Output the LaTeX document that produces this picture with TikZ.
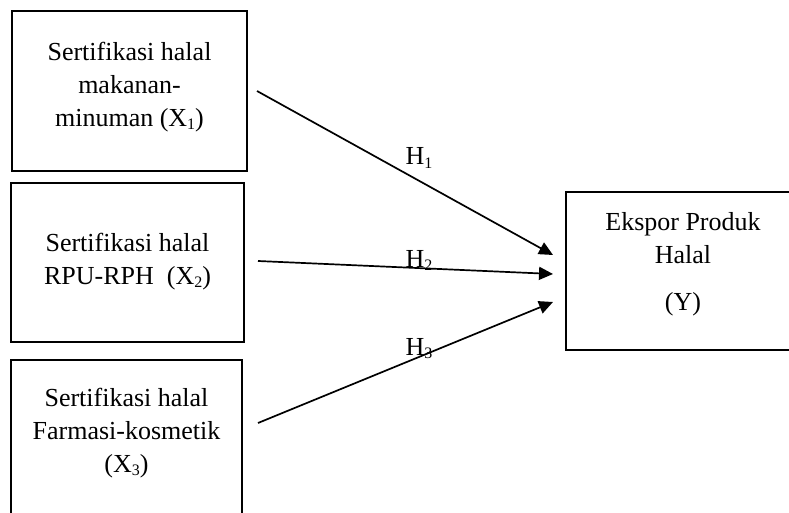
\documentclass[tikz,border=0pt]{standalone}
\usepackage{fontspec}
\setmainfont{Liberation Serif}
\usetikzlibrary{arrows.meta}
\newcommand{\sbs}[1]{\raisebox{-3pt}{\fontsize{16}{16}\selectfont #1}}
\tikzset{
  boxline/.style={line width=1.8pt},
  lbl/.style={font=\fontsize{26}{33}\selectfont, align=center, inner sep=0pt},
  hyp/.style={font=\fontsize{26}{33}\selectfont, inner sep=0pt, anchor=base},
  link/.style={line width=1.7pt, -{Triangle[length=14pt,width=13pt]}}
}
\begin{document}
\begin{tikzpicture}[x=1pt,y=-1pt]
\useasboundingbox (0,0) rectangle (789,513);
% boxes
\node[boxline, draw, minimum width=235pt, minimum height=160pt, inner sep=0pt] (b1) at (129.5,91) {};
\node[boxline, draw, minimum width=233pt, minimum height=159pt, inner sep=0pt] (b2) at (127.5,262.5) {};
\draw[boxline] (11,530) -- (11,360) -- (242,360) -- (242,530);
\draw[boxline] (820,192) -- (566,192) -- (566,350) -- (820,350);
% texts
\node[lbl] (t1) at (129.5,87.5) {Sertifikasi halal\\makanan-\\minuman (X\sbs{1})};
\node[lbl] (t2) at (127.5,262) {Sertifikasi halal\\RPU-RPH\ \ (X\sbs{2})};
\node[lbl] (t3) at (126.5,433.5) {Sertifikasi halal\\Farmasi-kosmetik\\(X\sbs{3})};
\node[lbl] (ty) at (683,264.5) {Ekspor Produk\\Halal\\[14pt](Y)};
% arrow ends
\coordinate (s1) at (257,91);
\coordinate (s2) at (258,261);
\coordinate (s3) at (258,423);
\coordinate (e1) at (553,255);
\coordinate (e2) at (553,274);
\coordinate (e3) at (553,302);
\draw[link] (s1) -- (e1);
\draw[link] (s2) -- (e2);
\draw[link] (s3) -- (e3);
% hypothesis labels
\node[hyp] (h1) at (419,165) {H\sbs{1}};
\node[hyp] (h2) at (419,267) {H\sbs{2}};
\node[hyp] (h3) at (419,355) {H\sbs{3}};
\end{tikzpicture}
\end{document}
